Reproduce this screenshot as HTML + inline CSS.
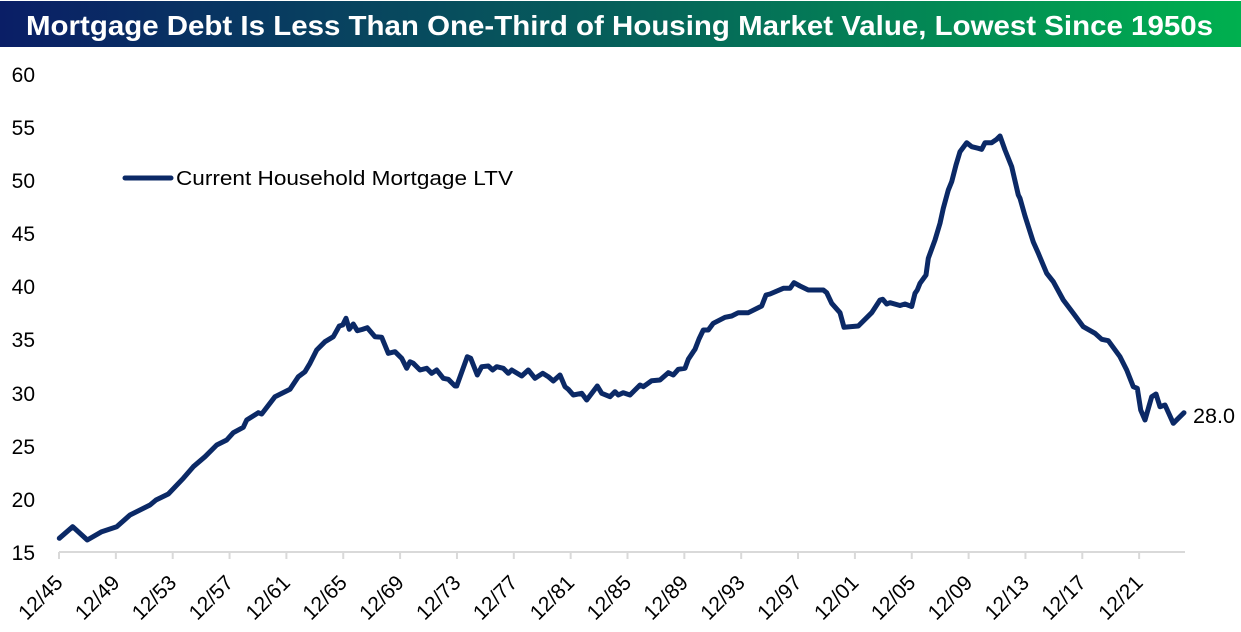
<!DOCTYPE html>
<html>
<head>
<meta charset="utf-8">
<style>
  html, body { margin: 0; padding: 0; background: #ffffff; }
  svg { display: block; }
  text { font-family: "Liberation Sans", Arial, sans-serif; }
</style>
</head>
<body>
<svg width="1241" height="632" viewBox="0 0 1241 632" xmlns="http://www.w3.org/2000/svg">
  <defs>
    <linearGradient id="tg" x1="0" y1="0" x2="1" y2="0">
      <stop offset="0" stop-color="#0a1e66"/>
      <stop offset="0.5" stop-color="#06605a"/>
      <stop offset="1" stop-color="#00b04f"/>
    </linearGradient>
  </defs>
  <rect x="0" y="0" width="1241" height="632" fill="#ffffff"/>
  <!-- Title bar -->
  <rect x="0" y="1" width="1241" height="46" fill="url(#tg)"/>
  <text x="26" y="35" font-size="28" font-weight="bold" fill="#ffffff" textLength="1187" lengthAdjust="spacingAndGlyphs">Mortgage Debt Is Less Than One-Third of Housing Market Value, Lowest Since 1950s</text>

  <!-- Y axis labels -->
  <g font-size="21" fill="#000000" text-anchor="end">
    <text x="35" y="82">60</text>
    <text x="35" y="135">55</text>
    <text x="35" y="188">50</text>
    <text x="35" y="241">45</text>
    <text x="35" y="294">40</text>
    <text x="35" y="347">35</text>
    <text x="35" y="401">30</text>
    <text x="35" y="454">25</text>
    <text x="35" y="507">20</text>
    <text x="35" y="560">15</text>
  </g>

  <!-- X axis -->
  <line x1="59" y1="552" x2="1185" y2="552" stroke="#d9d9d9" stroke-width="2"/>
  <g stroke="#d9d9d9" stroke-width="2">
    <line x1="59" y1="552" x2="59" y2="559"/>
    <line x1="115.85" y1="552" x2="115.85" y2="559"/>
    <line x1="172.7" y1="552" x2="172.7" y2="559"/>
    <line x1="229.55" y1="552" x2="229.55" y2="559"/>
    <line x1="286.4" y1="552" x2="286.4" y2="559"/>
    <line x1="343.25" y1="552" x2="343.25" y2="559"/>
    <line x1="400.1" y1="552" x2="400.1" y2="559"/>
    <line x1="456.95" y1="552" x2="456.95" y2="559"/>
    <line x1="513.8" y1="552" x2="513.8" y2="559"/>
    <line x1="570.65" y1="552" x2="570.65" y2="559"/>
    <line x1="627.5" y1="552" x2="627.5" y2="559"/>
    <line x1="684.35" y1="552" x2="684.35" y2="559"/>
    <line x1="741.2" y1="552" x2="741.2" y2="559"/>
    <line x1="798.05" y1="552" x2="798.05" y2="559"/>
    <line x1="854.9" y1="552" x2="854.9" y2="559"/>
    <line x1="911.75" y1="552" x2="911.75" y2="559"/>
    <line x1="968.6" y1="552" x2="968.6" y2="559"/>
    <line x1="1025.45" y1="552" x2="1025.45" y2="559"/>
    <line x1="1082.3" y1="552" x2="1082.3" y2="559"/>
    <line x1="1139.15" y1="552" x2="1139.15" y2="559"/>
  </g>
  <g font-size="21" fill="#000000" text-anchor="end">
    <text transform="translate(64,584) rotate(-45)">12/45</text>
    <text transform="translate(120.85,584) rotate(-45)">12/49</text>
    <text transform="translate(177.7,584) rotate(-45)">12/53</text>
    <text transform="translate(234.55,584) rotate(-45)">12/57</text>
    <text transform="translate(291.4,584) rotate(-45)">12/61</text>
    <text transform="translate(348.25,584) rotate(-45)">12/65</text>
    <text transform="translate(405.1,584) rotate(-45)">12/69</text>
    <text transform="translate(461.95,584) rotate(-45)">12/73</text>
    <text transform="translate(518.8,584) rotate(-45)">12/77</text>
    <text transform="translate(575.65,584) rotate(-45)">12/81</text>
    <text transform="translate(632.5,584) rotate(-45)">12/85</text>
    <text transform="translate(689.35,584) rotate(-45)">12/89</text>
    <text transform="translate(746.2,584) rotate(-45)">12/93</text>
    <text transform="translate(803.05,584) rotate(-45)">12/97</text>
    <text transform="translate(859.9,584) rotate(-45)">12/01</text>
    <text transform="translate(916.75,584) rotate(-45)">12/05</text>
    <text transform="translate(973.6,584) rotate(-45)">12/09</text>
    <text transform="translate(1030.45,584) rotate(-45)">12/13</text>
    <text transform="translate(1087.3,584) rotate(-45)">12/17</text>
    <text transform="translate(1144.15,584) rotate(-45)">12/21</text>
  </g>

  <!-- Legend -->
  <line x1="125" y1="178" x2="171" y2="178" stroke="#0b2966" stroke-width="5" stroke-linecap="round"/>
  <text x="176" y="185" font-size="20" fill="#000000" textLength="337" lengthAdjust="spacingAndGlyphs">Current Household Mortgage LTV</text>

  <!-- Series -->
  <polyline fill="none" stroke="#0b2966" stroke-width="5" stroke-linejoin="round" stroke-linecap="round" points="
59.3,538.3 72.7,526.7 87.3,540 101.7,531.7 116.7,526.7 130,515 150,505 156,500 168.3,494 183.3,478.3 193.3,466.7 205,456.7 216.7,445 226.7,440 233.3,432.7 243.3,427.3 246.7,420 258.3,412.7 261.7,414 275,396.7 290,389.3 298.3,376.7 305,371.7 310,363.3 316.7,350 325,341.7 333.3,336.7 339.3,326 342.7,325 346,318.3 349.3,329.3 353.3,324 357.3,330.7 362,329.5 367.3,327.7 375,336.7 381.7,337.3 388.3,353.3 395,351.7 401.7,358.3 406.7,368.3 410,361.7 413.3,363.3 420,370 426.7,368.3 431.7,373.3 436.7,370 443.3,378.3 448.3,379.3 455,386 456.7,386 467.3,356.7 470.7,358.3 477.3,375 481.7,366.7 488.3,366 492.7,370 496.7,366.7 503.3,368.3 508.3,373.3 511.7,370 521.7,376 528.3,370 535,378.3 542.7,373.3 548.3,376.7 553.3,381 560,375 565,386.7 568.3,389.3 573.3,395 581.7,393.3 586.7,400 597.3,386 601.7,393.3 610,396.7 615,391.7 618.3,395 623.3,392.7 630,395 640,385 643.3,386.7 651.7,380.7 660,380 668.3,372.7 673.3,375 678.3,369.3 685,368.3 688.3,359.3 693.3,351.7 695,349.3 699,339 703.3,330 708.3,330 713.3,323.3 725,317.3 731.7,316 738.3,312.7 748.3,312.7 761.7,306 766,295 770,294 783.3,288.3 790,288.3 794,282.7 800,286 808.3,290 823.3,290 826.7,292.7 831.7,303.3 840,312.7 844,327.3 858.3,326 871.7,312.7 880,300 882.7,299.3 886.7,304 890,302.7 900,305.5 905,304 911.7,306.5 915,293.3 917.3,290 920,283.3 926,275 928.3,258.3 935,240 940,223.3 943.3,208.3 948.3,190 951.7,181.7 956,165 960,151.7 966.7,142.7 971.7,146.7 978.3,148.3 981.7,149.3 985,142.7 991.7,142.7 996.7,139.3 1000,136 1005,150 1011.7,166.7 1018.3,195 1020,198.3 1025,216 1033.3,242 1038.3,253.3 1046.7,273.3 1053.3,281.7 1063.3,300 1073.3,313.3 1083.3,326.7 1095,333.3 1101.7,339.3 1108.3,340.7 1120,356.7 1126.7,370 1133.3,386.7 1137.3,388.3 1140.7,410 1145,420 1151.7,396.7 1156,394 1160,406.7 1165,405 1173.3,423.3 1178.3,418.3 1184,412.7"/>

  <!-- End label -->
  <text x="1193" y="423" font-size="21" fill="#000000" textLength="42" lengthAdjust="spacingAndGlyphs">28.0</text>
</svg>
</body>
</html>
